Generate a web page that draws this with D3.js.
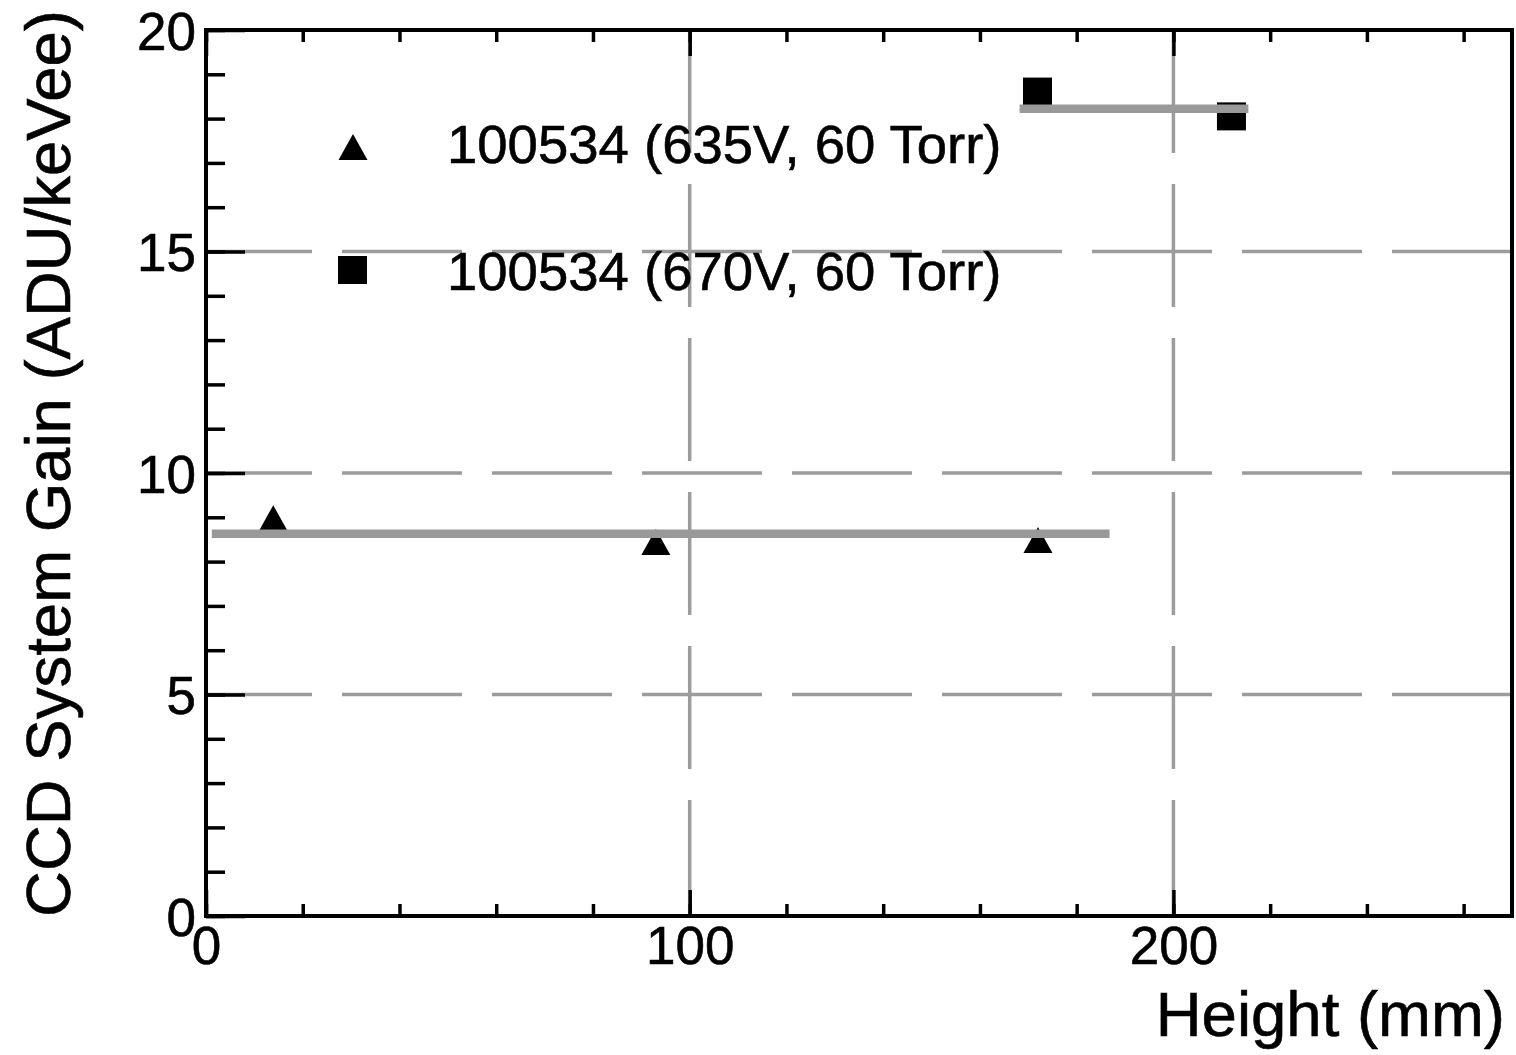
<!DOCTYPE html>
<html>
<head>
<meta charset="utf-8">
<script src="https://cdn.jsdelivr.net/npm/d3@7"></script>
<style>
  html, body { margin: 0; padding: 0; background: #fff; }
  svg { display: block; font-family: "Liberation Sans", Arial, Helvetica, sans-serif; }
  svg text { stroke: #000; stroke-width: 0.6px; }
</style>
</head>
<body>
<svg id="chart" width="1516" height="1055"></svg>
<script>
// ============ Data ============
const seriesLabels = ['100534 (635V, 60 Torr)', '100534 (670V, 60 Torr)'];

// 635V run: triangles
const triHeight = [13.9, 93.0, 172.0];
const triGain   = [8.98, 8.44, 8.49];
// 670V run: squares
const sqHeight  = [171.9, 212.0];
const sqGain    = [18.61, 18.05];

// constant fits (start/end height, fitted gain)
const fit635Height = [1.2, 186.8];
const fit635Gain   = [8.63, 8.63];
const fit670Height = [168.2, 215.5];
const fit670Gain   = [18.22, 18.22];

// ticks
const xMajorTicks = [0, 100, 200];
const xMinorTicks = d3.range(0, 271, 20);
const yMajorTicks = [0, 5, 10, 15, 20];
const yMinorTicks = d3.range(0, 21, 1);
const xGridLines  = [100, 200];
const yGridLines  = [5, 10, 15];

// ============ Layout ============
const svg = d3.select('#chart');
const x = d3.scaleLinear().domain([0, 270]).range([206, 1512]);
const y = d3.scaleLinear().domain([0, 20]).range([916, 30]);
const GRID = '#9c9c9c', FIT = '#999999';

// ── Grid (gray dashed) ──
svg.append('g').selectAll('line')
  .data(yGridLines).enter().append('line')
  .attr('x1', x(0)).attr('x2', x(270))
  .attr('y1', d => y(d)).attr('y2', d => y(d))
  .attr('stroke', GRID).attr('stroke-width', 3.5)
  .attr('stroke-dasharray', '120,30').attr('stroke-dashoffset', 14);

svg.append('g').selectAll('line')
  .data(xGridLines).enter().append('line')
  .attr('x1', d => x(d)).attr('x2', d => x(d))
  .attr('y1', y(20)).attr('y2', y(0))
  .attr('stroke', GRID).attr('stroke-width', 3.5)
  .attr('stroke-dasharray', '123,31');

// ── Markers ──
const triPath = 'M0,-13 L14.5,13 L-14.5,13 Z';
svg.append('g').selectAll('path')
  .data(triHeight.map((h, i) => [h, triGain[i]])).enter().append('path')
  .attr('d', triPath)
  .attr('transform', d => `translate(${x(d[0])},${y(d[1])})`)
  .attr('fill', '#000');

svg.append('g').selectAll('rect')
  .data(sqHeight.map((h, i) => [h, sqGain[i]])).enter().append('rect')
  .attr('x', d => x(d[0]) - 14.5).attr('y', d => y(d[1]) - 14)
  .attr('width', 29).attr('height', 28)
  .attr('fill', '#000');

// ── Fit lines (drawn over markers) ──
const fitLine = d3.line().x(d => x(d[0])).y(d => y(d[1]));
[[fit635Height, fit635Gain], [fit670Height, fit670Gain]].forEach(([hs, gs]) => {
  svg.append('path')
    .attr('d', fitLine(hs.map((h, i) => [h, gs[i]])))
    .attr('fill', 'none')
    .attr('stroke', FIT)
    .attr('stroke-width', 8.5);
});

// ── Axes ──
function tickAxis(axis, tx, ty) {
  const g = svg.append('g').attr('transform', `translate(${tx},${ty})`).call(axis);
  g.select('.domain').remove();
  g.selectAll('line').attr('stroke', '#000').attr('stroke-width', 3.5);
  return g;
}
// y ticks point inward (to the right)
tickAxis(d3.axisRight(y).tickValues(yMinorTicks).tickSize(19).tickFormat(''), x(0), 0);
tickAxis(d3.axisRight(y).tickValues(yMajorTicks).tickSize(39).tickFormat(''), x(0), 0);
// x ticks, bottom (pointing up) and top (pointing down)
tickAxis(d3.axisTop(x).tickValues(xMinorTicks).tickSize(12).tickFormat(''), 0, y(0));
tickAxis(d3.axisTop(x).tickValues(xMajorTicks).tickSize(26).tickFormat(''), 0, y(0));
tickAxis(d3.axisBottom(x).tickValues(xMinorTicks).tickSize(12).tickFormat(''), 0, y(20));
tickAxis(d3.axisBottom(x).tickValues(xMajorTicks).tickSize(26).tickFormat(''), 0, y(20));

// tick labels
const yLab = svg.append('g').attr('transform', `translate(${x(0)},0)`)
  .call(d3.axisLeft(y).tickValues(yMajorTicks).tickSize(0).tickPadding(10));
yLab.select('.domain').remove();
yLab.selectAll('text')
  .attr('font-family', 'inherit').attr('font-size', 53).attr('fill', '#000')
  .attr('dy', '0.36em');

const xLab = svg.append('g').attr('transform', `translate(0,${y(0)})`)
  .call(d3.axisBottom(x).tickValues(xMajorTicks).tickSize(0).tickPadding(10));
xLab.select('.domain').remove();
xLab.selectAll('text')
  .attr('font-family', 'inherit').attr('font-size', 53).attr('fill', '#000')
  .attr('dy', '0.71em');

// frame
svg.append('rect')
  .attr('x', x(0)).attr('y', y(20))
  .attr('width', x(270) - x(0)).attr('height', y(0) - y(20))
  .attr('fill', 'none').attr('stroke', '#000').attr('stroke-width', 4);

// axis titles
svg.append('text')
  .attr('x', 1505).attr('y', 1036)
  .attr('text-anchor', 'end')
  .attr('font-size', 63.5)
  .text('Height (mm)');

svg.append('text')
  .attr('transform', 'translate(70,10) rotate(-90)')
  .attr('text-anchor', 'end')
  .attr('font-size', 63.5)
  .text('CCD System Gain (ADU/keVee)');

// ── Legend ──
const legend = svg.append('g');
legend.append('path').attr('d', triPath)
  .attr('transform', 'translate(353,147)').attr('fill', '#000');
legend.append('rect')
  .attr('x', 338).attr('y', 256).attr('width', 29).attr('height', 28)
  .attr('fill', '#000');
legend.selectAll('text')
  .data(seriesLabels).enter().append('text')
  .attr('x', 447)
  .attr('y', (d, i) => i === 0 ? 163 : 290)
  .attr('font-size', 54.5)
  .text(d => d);
</script>
</body>
</html>
